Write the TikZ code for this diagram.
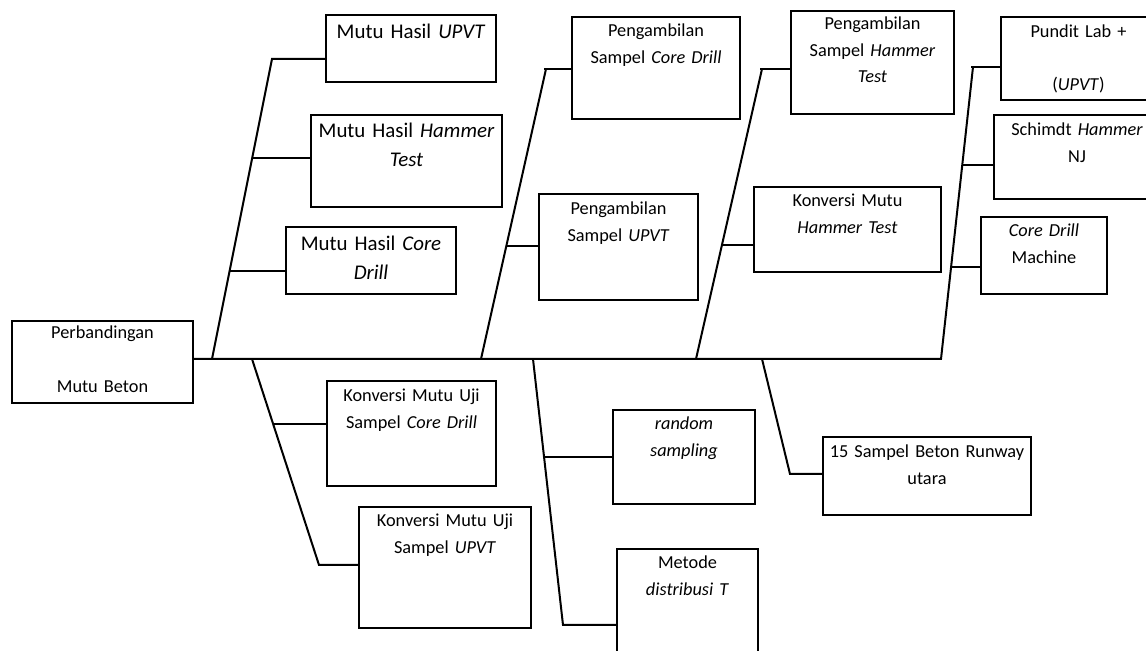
\documentclass[tikz,border=0pt]{standalone}
\usepackage{fontspec}
\setmainfont{Carlito}
\usepackage{tikz}

\begin{document}
\begin{tikzpicture}[x=0.5pt,y=-0.5pt,
    box/.style={draw,line width=1pt,anchor=north west,inner sep=0pt,align=center,
      font=\fontsize{9.15}{13.25}\selectfont},
    bigbox/.style={box,font=\fontsize{10.45}{14.5}\selectfont},
    bone/.style={line width=1pt}]
        \useasboundingbox (0,0) rectangle (1146,651);

        \node[box,text width=90.5pt,text height=9pt,text depth=32pt] at (11,320) (pmb) {Perbandingan\\[13.5pt]Mutu Beton};

        \node[bigbox,text width=85pt,text height=12pt,text depth=21.5pt] at (325,14) (mhu) {Mutu Hasil \textit{UPVT}};
        \node[bigbox,text width=95.5pt,text height=11.5pt,text depth=34.5pt] at (310,114) (mhh) {Mutu Hasil \textit{Hammer}\\\textit{Test}};
        \node[bigbox,text width=85pt,text height=12pt,text depth=21.5pt] at (285,226) (mhc) {Mutu Hasil \textit{Core}\\\textit{Drill}};

        \node[box,text width=84pt,text height=10pt,text depth=41pt] at (571,16) (pcd) {Pengambilan\\Sampel \textit{Core Drill}};
        \node[box,text width=79.5pt,text height=10.5pt,text depth=42.5pt] at (538,193) (pup) {Pengambilan\\Sampel \textit{UPVT}};

        \node[box,text width=81.5pt,text height=9.5pt,text depth=42pt] at (790,10) (pht) {Pengambilan\\Sampel \textit{Hammer}\\\textit{Test}};
        \node[box,text width=93.5pt,text height=10pt,text depth=32.5pt] at (753,186) (kmh) {Konversi Mutu\\\textit{Hammer Test}};

        \node[box,text width=77.5pt,text height=10.5pt,text depth=31pt] at (1000,16) (pun) {Pundit Lab +\\[13.25pt](\textit{UPVT})};
        \node[box,text width=83pt,text height=10.5pt,text depth=31.5pt] at (993,114) (shn) {Schimdt \textit{Hammer}\\NJ};
        \node[box,text width=63pt,text height=10pt,text depth=28.5pt] at (980,216) (cdm) {\textit{Core Drill}\\Machine};

        \node[box,text width=84.5pt,text height=10.5pt,text depth=42pt] at (326,380) (kcd) {Konversi Mutu Uji\\Sampel \textit{Core Drill}};
        \node[box,text width=86pt,text height=10pt,text depth=50.5pt] at (358,506) (kup) {Konversi Mutu Uji\\Sampel \textit{UPVT}};

        \node[box,text width=71pt,text height=10pt,text depth=37pt] at (612,409) (rsa) {\textit{random}\\\textit{sampling}};
        \node[box,text width=70.5pt,text height=10pt,text depth=65pt] at (616,548) (mdt) {Metode\\\textit{distribusi T}};

        \node[box,text width=104pt,text height=10.5pt,text depth=28.5pt] at (822,436) (sbr) {15 Sampel Beton Runway\\utara};

        % bones
        \coordinate (s1b) at (212,359); \coordinate (s1t) at (272,59);
        \coordinate (a1) at (252.5,158); \coordinate (a2) at (230,271);
        \coordinate (s2b) at (481,359); \coordinate (s2t) at (546,69);
        \coordinate (b1) at (506.5,246);
        \coordinate (s3b) at (696,359); \coordinate (s3t) at (762,69);
        \coordinate (c1) at (722,245);
        \coordinate (s4b) at (941,359); \coordinate (s4t) at (973,67);
        \coordinate (d1) at (962,165); \coordinate (d2) at (951,267);
        \coordinate (sAt) at (252,359); \coordinate (sAb) at (319,565);
        \coordinate (e1) at (273,424);
        \coordinate (sBt) at (533,359); \coordinate (sBb) at (563,625);
        \coordinate (f1) at (545,457);
        \coordinate (sCt) at (762,359); \coordinate (sCb) at (790,474);

        \draw[bone] (pmb.east |- s1b) -- (s4b) -- (s4t);
        \draw[bone] ([xshift=-1pt]s4t) -- (s4t -| pun.west);
        \draw[bone] (d1) -- (d1 -| shn.west);
        \draw[bone] (d2) -- (d2 -| cdm.west);

        \draw[bone] (s1b) -- (s1t) -- (s1t -| mhu.west);
        \draw[bone] (a1) -- (a1 -| mhh.west);
        \draw[bone] (a2) -- (a2 -| mhc.west);

        \draw[bone] (s2b) -- (s2t);
        \draw[bone] ([xshift=-1pt]s2t) -- (s2t -| pcd.west);
        \draw[bone] (b1) -- (b1 -| pup.west);

        \draw[bone] (s3b) -- (s3t);
        \draw[bone] ([xshift=-1pt]s3t) -- (s3t -| pht.west);
        \draw[bone] (c1) -- (c1 -| kmh.west);

        \draw[bone] (sAt) -- (sAb) -- (sAb -| kup.west);
        \draw[bone] (e1) -- (e1 -| kcd.west);

        \draw[bone] (sBt) -- (sBb) -- (sBb -| mdt.west);
        \draw[bone] (f1) -- (f1 -| rsa.west);

        \draw[bone] (sCt) -- (sCb) -- (sCb -| sbr.west);
\end{tikzpicture}
\end{document}
